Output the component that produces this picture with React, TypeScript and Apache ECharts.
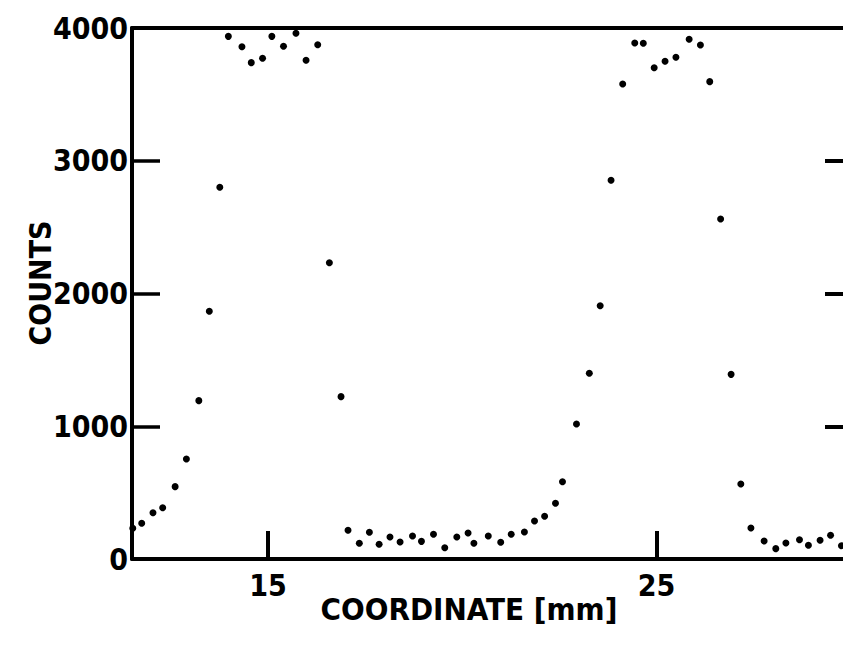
import React, { useEffect, useRef } from "react";
import * as echarts from "echarts";

const coordinates = [
  11.52, 11.75, 12.04, 12.29, 12.61, 12.9, 13.22, 13.49, 13.76, 13.98,
  14.33, 14.57, 14.86, 15.1, 15.4, 15.72, 15.98, 16.28, 16.58, 16.88,
  17.06, 17.35, 17.61, 17.86, 18.14, 18.4, 18.72, 18.95, 19.26, 19.55,
  19.86, 20.15, 20.3, 20.67, 20.99, 21.26, 21.6, 21.86, 22.12, 22.4,
  22.58, 22.94, 23.27, 23.55, 23.83, 24.13, 24.44, 24.66, 24.94, 25.22,
  25.5, 25.84, 26.13, 26.37, 26.65, 26.92, 27.17, 27.43, 27.77, 28.07,
  28.33, 28.68, 28.91, 29.21, 29.48, 29.76,
];
const counts = [
  231, 269, 349, 386, 545, 753, 1193, 1866, 2800, 3937,
  3859, 3739, 3772, 3937, 3862, 3960, 3757, 3874, 2232, 1223,
  216, 118, 201, 111, 166, 128, 173, 133, 186, 85,
  166, 196, 118, 173, 126, 186, 203, 286, 322, 420,
  582, 1017, 1399, 1908, 2853, 3578, 3887, 3885, 3701, 3749,
  3779, 3915, 3872, 3596, 2561, 1391, 565, 234, 136, 78,
  121, 145, 103, 141, 179, 100,
];
const xTickValues = [15, 25];
const yTickLabels = ["0", "1000", "2000", "3000", "4000"];
const xTitle = "COORDINATE [mm]";
const yTitle = "COUNTS";

const FONT = "'DejaVu Sans Condensed', 'Liberation Sans Narrow', sans-serif";

export default function App() {
  const ref = useRef<HTMLDivElement>(null);
  useEffect(() => {
    document.body.style.margin = "0";
    if (!ref.current) return;
    const chart = echarts.init(ref.current, null, { renderer: "svg" });
    const lineStyle = { color: "#000", width: 4 };
    chart.setOption({
      animation: false,
      backgroundColor: "#fff",
      grid: { left: 132, right: 0, top: 28, bottom: 91, containLabel: false },
      xAxis: [
        {
          type: "value",
          min: 11.5,
          max: 29.8,
          position: "bottom",
          axisLine: { show: true, lineStyle },
          axisTick: {
            show: true,
            inside: true,
            length: 28,
            customValues: xTickValues,
            lineStyle: { color: "#000", width: 4 },
          },
          axisLabel: {
            show: true,
            customValues: xTickValues,
            margin: 11,
            color: "#000",
            fontFamily: FONT,
            fontWeight: "bold",
            fontSize: 30,
          },
          splitLine: { show: false },
        },
        {
          type: "value",
          min: 11.5,
          max: 29.8,
          position: "top",
          axisLine: { show: true, onZero: false, lineStyle },
          axisTick: { show: false },
          axisLabel: { show: false },
          splitLine: { show: false },
        },
      ],
      yAxis: [
        {
          type: "value",
          min: 0,
          max: 4000,
          interval: 1000,
          position: "left",
          axisLine: { show: true, lineStyle },
          axisTick: { show: true, inside: true, length: 28, lineStyle: { color: "#000", width: 3.5 } },
          axisLabel: {
            show: true,
            margin: 4,
            color: "#000",
            fontFamily: FONT,
            fontWeight: "bold",
            fontSize: 30,
            formatter: (v: number) => yTickLabels[Math.round(v / 1000)] ?? "",
          },
          splitLine: { show: false },
        },
        {
          type: "value",
          min: 0,
          max: 4000,
          interval: 1000,
          position: "right",
          axisLine: { show: false, onZero: false },
          axisTick: { show: true, inside: true, length: 18, lineStyle: { color: "#000", width: 4 } },
          axisLabel: { show: false },
          splitLine: { show: false },
        },
      ],
      series: [
        {
          type: "scatter",
          xAxisIndex: 0,
          yAxisIndex: 0,
          symbol: "circle",
          symbolSize: 7,
          itemStyle: { color: "#000", opacity: 1 },
          data: coordinates.map((x, i) => [x, counts[i]]),
        },
      ],
      graphic: [
        {
          type: "text",
          x: 469,
          y: 609,
          style: {
            text: xTitle,
            fill: "#000",
            font: `bold 31px ${FONT}`,
            align: "center",
            verticalAlign: "middle",
          },
        },
        {
          type: "text",
          x: 40,
          y: 283,
          rotation: Math.PI / 2,
          style: {
            text: yTitle,
            fill: "#000",
            font: `bold 30px ${FONT}`,
            align: "center",
            verticalAlign: "middle",
          },
        },
      ],
    });
    return () => chart.dispose();
  }, []);
  return (
    <div
      ref={ref}
      style={{ position: "fixed", left: 0, top: 0, width: 843, height: 650, background: "#fff" }}
    />
  );
}
